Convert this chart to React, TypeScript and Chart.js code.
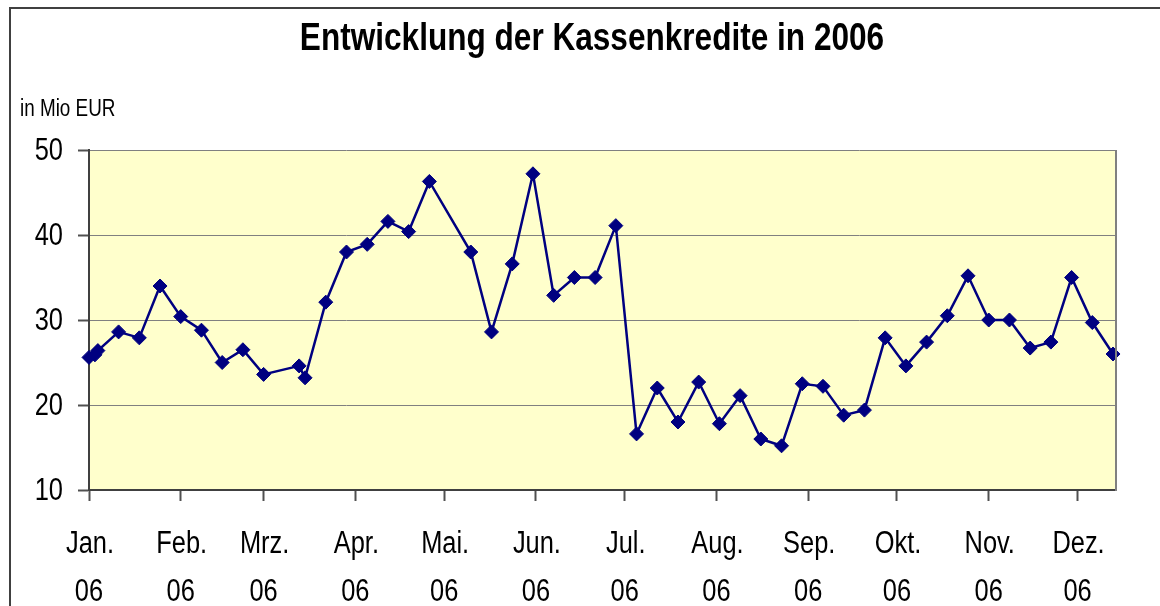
import React, { useEffect, useRef } from "react";
import { Chart, registerables } from "chart.js";

Chart.register(...registerables);

// ---- data ----
const titleText = "Entwicklung der Kassenkredite in 2006";
const unitLabel = "in Mio EUR";

const dates = [
  "2006-01-01", "2006-01-03", "2006-01-04", "2006-01-11", "2006-01-18", "2006-01-25",
  "2006-02-01", "2006-02-08", "2006-02-15", "2006-02-22", "2006-03-01", "2006-03-13",
  "2006-03-15", "2006-03-22", "2006-03-29", "2006-04-05", "2006-04-12", "2006-04-19",
  "2006-04-26", "2006-05-10", "2006-05-17", "2006-05-24", "2006-05-31", "2006-06-07",
  "2006-06-14", "2006-06-21", "2006-06-28", "2006-07-05", "2006-07-12", "2006-07-19",
  "2006-07-26", "2006-08-02", "2006-08-09", "2006-08-16", "2006-08-23", "2006-08-30",
  "2006-09-06", "2006-09-13", "2006-09-20", "2006-09-27", "2006-10-04", "2006-10-11",
  "2006-10-18", "2006-10-25", "2006-11-01", "2006-11-08", "2006-11-15", "2006-11-22",
  "2006-11-29", "2006-12-06", "2006-12-13",
];

const values = [
  25.6, 25.9, 26.4, 28.6, 27.9, 34.0,
  30.4, 28.8, 25.0, 26.5, 23.6, 24.6,
  23.2, 32.1, 38.0, 38.9, 41.6, 40.4,
  46.3, 38.0, 28.6, 36.6, 47.2, 32.9,
  35.0, 35.0, 41.1, 16.6, 22.0, 18.0,
  22.7, 17.8, 21.1, 16.0, 15.2, 22.5,
  22.2, 18.8, 19.4, 27.9, 24.6, 27.4,
  30.5, 35.2, 30.0, 30.0, 26.7, 27.4,
  35.0, 29.7, 26.0,
];

const monthStarts = [
  "2006-01-01", "2006-02-01", "2006-03-01", "2006-04-01", "2006-05-01", "2006-06-01",
  "2006-07-01", "2006-08-01", "2006-09-01", "2006-10-01", "2006-11-01", "2006-12-01",
];
const monthLabels = ["Jan.", "Feb.", "Mrz.", "Apr.", "Mai.", "Jun.", "Jul.", "Aug.", "Sep.", "Okt.", "Nov.", "Dez."];
const yearLabel = "06";
const axisStart = "2006-01-01";
const axisEnd = "2006-12-14";
const yMin = 10;
const yMax = 50;
const yStep = 10;

const FONT = "'Liberation Sans', Arial, sans-serif";
const NARROW = 0.82; // emulate a narrow (condensed) sans face

function dayOf(s: string): number {
  const [y, m, d] = s.split("-").map(Number);
  const [y0, m0, d0] = axisStart.split("-").map(Number);
  return (Date.UTC(y, m - 1, d) - Date.UTC(y0, m0 - 1, d0)) / 86400000;
}

function narrowText(ctx: CanvasRenderingContext2D, text: string, x: number, y: number, align: CanvasTextAlign, font: string) {
  ctx.save();
  ctx.font = font;
  ctx.fillStyle = "#000";
  ctx.textBaseline = "alphabetic";
  ctx.textAlign = align;
  ctx.translate(x, y);
  ctx.scale(NARROW, 1);
  ctx.fillText(text, 0, 0);
  ctx.restore();
}

const decor = {
  id: "decor",
  beforeDraw(chart: any) {
    const { ctx, chartArea: a } = chart;
    ctx.save();
    ctx.fillStyle = "#FFFFCC";
    ctx.fillRect(a.left, a.top, a.right - a.left, a.bottom - a.top);
    ctx.restore();
  },
  afterDatasetsDraw(chart: any) {
    const { ctx, chartArea: a } = chart;
    ctx.save();
    ctx.strokeStyle = "#808080";
    ctx.lineWidth = 2;
    ctx.beginPath();
    ctx.moveTo(a.right, a.top);
    ctx.lineTo(a.right, a.bottom + 1);
    ctx.stroke();
    ctx.restore();
  },
  afterDraw(chart: any) {
    const { ctx } = chart;
    // title
    narrowText(ctx, titleText, 592, 49.5, "center", `bold 38.5px ${FONT}`);
    // unit label
    narrowText(ctx, unitLabel, 20, 116, "left", `23px ${FONT}`);
    // y tick labels
    const ys = chart.scales.y;
    ys.ticks.forEach((t: any) => {
      const py = ys.getPixelForValue(t.value);
      narrowText(ctx, String(t.value), 63, py + 9.5, "right", `31px ${FONT}`);
    });
    // x tick labels
    const xs = chart.scales.x;
    xs.ticks.forEach((t: any, i: number) => {
      const px = xs.getPixelForValue(t.value);
      narrowText(ctx, monthLabels[i], px + 1, 553, "center", `31px ${FONT}`);
      narrowText(ctx, yearLabel, px, 601, "center", `31px ${FONT}`);
    });
  },
};

export default function App() {
  const ref = useRef<HTMLCanvasElement | null>(null);

  useEffect(() => {
    if (!ref.current) return;
    const chart = new Chart(ref.current, {
      type: "line",
      data: {
        datasets: [
          {
            data: dates.map((d, i) => ({ x: dayOf(d), y: values[i] })),
            borderColor: "#000080",
            backgroundColor: "#000080",
            borderWidth: 2.5,
            pointStyle: "rectRot",
            pointRadius: 7,
            pointBorderWidth: 1,
            pointBorderColor: "#000080",
            pointBackgroundColor: "#000080",
            tension: 0,
            clip: false as any,
          },
        ],
      },
      options: {
        responsive: false,
        animation: false,
        layout: { padding: { left: 0, right: 44, top: 150, bottom: 0 } },
        plugins: {
          legend: { display: false },
          tooltip: { enabled: false },
          title: { display: false },
        },
        scales: {
          x: {
            type: "linear",
            min: dayOf(axisStart),
            max: dayOf(axisEnd),
            afterBuildTicks: (s: any) => {
              s.ticks = monthStarts.map((m) => ({ value: dayOf(m) }));
            },
            afterFit: (s: any) => {
              s.height = 116;
            },
            ticks: { display: false, autoSkip: false },
            grid: {
              display: true,
              drawOnChartArea: false,
              drawTicks: true,
              tickLength: 11,
              tickColor: "#505050",
              tickWidth: 2,
            },
            border: { display: true, color: "#404040", width: 2 },
          },
          y: {
            type: "linear",
            min: yMin,
            max: yMax,
            afterFit: (s: any) => {
              s.width = 89;
            },
            ticks: { stepSize: yStep, display: false },
            grid: {
              color: "#808080",
              lineWidth: 1,
              tickLength: 11,
              tickColor: "#505050",
              tickWidth: 2,
            },
            border: { display: true, color: "#404040", width: 2 },
          },
        },
      },
      plugins: [decor],
    } as any);
    return () => chart.destroy();
  }, []);

  return (
    <div style={{ position: "absolute", left: 0, top: 0, width: 1160, height: 606, overflow: "hidden", background: "#fff" }}>
      <canvas ref={ref} width={1160} height={606} style={{ position: "absolute", left: 0, top: 0, width: 1160, height: 606 }} />
      <div
        style={{
          position: "absolute",
          left: 9,
          top: 7,
          width: 1300,
          height: 800,
          borderLeft: "2px solid #404040",
          borderTop: "2px solid #404040",
          pointerEvents: "none",
        }}
      />
    </div>
  );
}
